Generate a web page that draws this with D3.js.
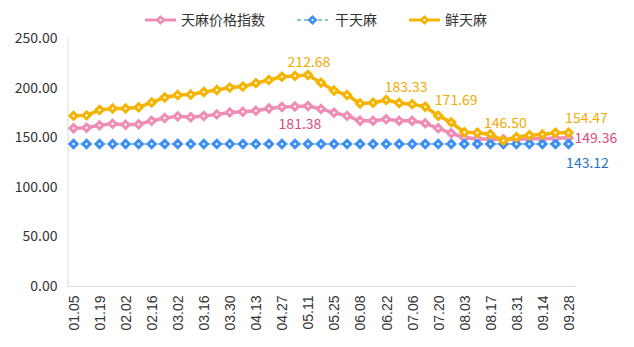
<!DOCTYPE html>
<html>
<head>
<meta charset="utf-8">
<script src="https://cdn.jsdelivr.net/npm/d3@7"></script>
<style>
  html, body { margin: 0; padding: 0; background: #fff; }
  svg { display: block; }
</style>
</head>
<body>
<svg width="634" height="347"></svg>
<script>
const dates = ['01.05','01.12','01.19','01.26','02.02','02.09','02.16','02.23','03.02','03.09',
  '03.16','03.23','03.30','04.06','04.13','04.20','04.27','05.04','05.11','05.18',
  '05.25','06.01','06.08','06.15','06.22','06.29','07.06','07.13','07.20','07.27',
  '08.03','08.10','08.17','08.24','08.31','09.07','09.14','09.21','09.28'];

const tickDates = ['01.05','01.19','02.02','02.16','03.02','03.16','03.30','04.13','04.27','05.11',
  '05.25','06.08','06.22','07.06','07.20','08.03','08.17','08.31','09.14','09.28'];

const yTicks = [0, 50, 100, 150, 200, 250];

// 天麻价格指数
const indexVals = [159, 159.5, 162, 163.5, 162.5, 163, 166.5, 169.3, 171, 170.2,
  171.4, 173, 175, 175.6, 176.6, 179, 180.5, 181, 181.38, 178.5,
  174.7, 171.5, 166.5, 166.5, 168, 166.5, 166.5, 164, 159, 154,
  149.5, 148.5, 148, 148, 148, 148.5, 148.5, 149, 149.36];

// 干天麻
const dryVals = [143.12, 143.12, 143.12, 143.12, 143.12, 143.12, 143.12, 143.12, 143.12, 143.12,
  143.12, 143.12, 143.12, 143.12, 143.12, 143.12, 143.12, 143.12, 143.12, 143.12,
  143.12, 143.12, 143.12, 143.12, 143.12, 143.12, 143.12, 143.12, 143.12, 143.12,
  143.12, 143.12, 143.12, 143.12, 143.12, 143.12, 143.12, 143.12, 143.12];

// 鲜天麻
const freshVals = [171.5, 172, 177.4, 179, 179, 180.1, 185, 190, 192.5, 193,
  195.6, 197.6, 200, 201, 204.5, 207.7, 211, 211.8, 212.68, 205,
  197, 192.5, 184, 184.8, 187.5, 184.5, 183.33, 180.7, 171.69, 165,
  155, 154.5, 153, 146.5, 150, 152, 152.8, 154.5, 154.47];

const series = [
  { name: '天麻价格指数', values: indexVals, color: '#f08db5', width: 3.5, dash: null, labelColor: '#dc4a80' },
  { name: '干天麻', values: dryVals, color: '#3d8ef5', width: 1.5, dash: '4,3', lineColor: '#5bb3c4', labelColor: '#2673c4' },
  { name: '鲜天麻', values: freshVals, color: '#f5b400', width: 3.5, dash: null, labelColor: '#f0ac00' }
];

// value labels: series index, point index, offsets
const valueLabels = [
  { s: 2, i: 18, dx: 1, dy: -8, anchor: 'middle' },
  { s: 0, i: 18, dx: -8, dy: 23, anchor: 'middle' },
  { s: 2, i: 26, dx: -6, dy: -12, anchor: 'middle' },
  { s: 2, i: 28, dx: 18, dy: -11, anchor: 'middle' },
  { s: 2, i: 33, dx: 2, dy: -13, anchor: 'middle' },
  { s: 2, i: 38, dx: 18, dy: -10, anchor: 'middle' },
  { s: 0, i: 38, dx: 6, dy: 5, anchor: 'start' },
  { s: 1, i: 38, dx: 19, dy: 24, anchor: 'middle' }
];

const cjk = '"Noto Sans CJK SC", "Noto Sans", sans-serif';
const svg = d3.select('svg');

const x = d3.scalePoint().domain(dates).range([67, 575]).padding(0.5);
const y = d3.scaleLinear().domain([0, 250]).range([286, 38]);

// axes
const yAxis = svg.append('g')
  .attr('transform', 'translate(67.5,0)')
  .call(d3.axisLeft(y).tickValues(yTicks).tickFormat(d3.format('.2f')).tickSize(0).tickPadding(10));
yAxis.select('.domain').attr('stroke', '#dcdcdc');
yAxis.selectAll('text').attr('font-family', cjk).attr('font-size', 14).attr('fill', '#333');

const xAxis = svg.append('g')
  .attr('transform', 'translate(0,286.5)')
  .call(d3.axisBottom(x).tickValues(tickDates).tickSize(0));
xAxis.select('.domain').attr('stroke', '#dcdcdc').attr('d', 'M67,0H575');
xAxis.selectAll('text')
  .attr('font-family', '"Liberation Sans", Arial, sans-serif')
  .attr('font-size', 14)
  .attr('fill', '#333')
  .attr('transform', 'rotate(-90)')
  .attr('text-anchor', 'end')
  .attr('x', -9)
  .attr('y', 0)
  .attr('dy', '0.35em');

// diamond marker
function diamond(r) {
  return `M0,${-r}L${r},0L0,${r}L${-r},0Z`;
}

const line = d3.line().x((d, i) => x(dates[i])).y(d => y(d));

series.forEach(s => {
  const g = svg.append('g');
  g.append('path')
    .attr('d', line(s.values))
    .attr('fill', 'none')
    .attr('stroke', s.lineColor || s.color)
    .attr('stroke-width', s.width)
    .attr('stroke-dasharray', s.dash)
    .attr('stroke-linejoin', 'round');
  g.selectAll('path.pt')
    .data(s.values)
    .enter()
    .append('path')
    .attr('class', 'pt')
    .attr('d', diamond(3.6))
    .attr('transform', (d, i) => `translate(${x(dates[i])},${y(d)})`)
    .attr('fill', '#fff')
    .attr('stroke', s.color)
    .attr('stroke-width', 3);
});

// value labels
svg.append('g').selectAll('text')
  .data(valueLabels)
  .enter()
  .append('text')
  .attr('x', d => x(dates[d.i]) + d.dx)
  .attr('y', d => y(series[d.s].values[d.i]) + d.dy)
  .attr('text-anchor', d => d.anchor)
  .attr('font-family', cjk)
  .attr('font-size', 14)
  .attr('fill', d => series[d.s].labelColor)
  .text(d => d3.format('.2f')(series[d.s].values[d.i]));

// legend
const legendPos = [145, 297, 409];
const legend = svg.append('g').selectAll('g')
  .data(series)
  .enter()
  .append('g')
  .attr('transform', (d, i) => `translate(${legendPos[i]},20)`);
legend.append('line')
  .attr('x1', 0).attr('x2', 31)
  .attr('stroke', d => d.lineColor || d.color)
  .attr('stroke-width', d => d.width === 1.5 ? 1.5 : 3)
  .attr('stroke-dasharray', d => d.dash);
legend.append('path')
  .attr('d', diamond(3.2))
  .attr('transform', 'translate(15.5,0)')
  .attr('fill', '#fff')
  .attr('stroke', d => d.color)
  .attr('stroke-width', 2.6);
legend.append('text')
  .attr('x', (d, i) => i === 0 ? 36 : i === 1 ? 38 : 36)
  .attr('dy', '0.35em')
  .attr('font-family', cjk)
  .attr('font-size', 14)
  .attr('fill', '#333')
  .text(d => d.name);
</script>
</body>
</html>
